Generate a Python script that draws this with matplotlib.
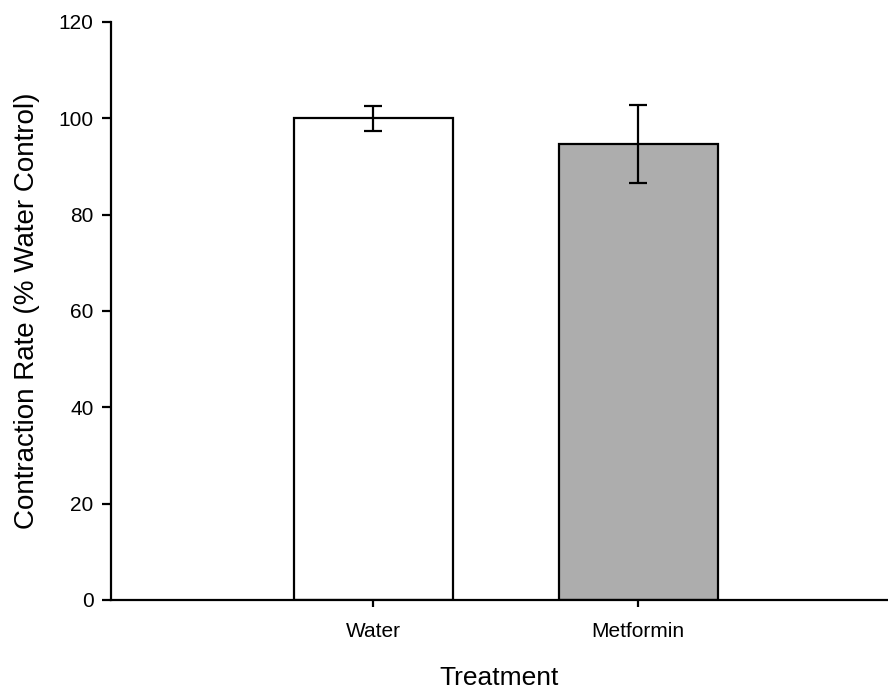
import matplotlib
matplotlib.use("Agg")
import matplotlib.pyplot as plt

plt.rcParams['font.family'] = ['Liberation Sans', 'DejaVu Sans']

categories = ["Water", "Metformin"]
values = [100.0, 94.7]
errors = [2.6, 8.1]
bar_colors = ["#ffffff", "#adadad"]
yticks = [0, 20, 40, 60, 80, 100, 120]

fig = plt.figure(figsize=(8.88, 6.93), dpi=100)
ax = fig.add_axes([0.125, 0.1342, 0.875, 0.8341])

x = list(range(len(categories)))
ax.bar(x, values, width=0.6, color=bar_colors, edgecolor="black", linewidth=1.6, zorder=2)
ax.errorbar(x, values, yerr=errors, fmt="none", ecolor="black", elinewidth=1.6,
            capsize=6.5, capthick=1.6, zorder=3)

ax.set_xlim(-0.99, 1.943)
ax.set_ylim(0, 120)
ax.set_yticks(yticks)
ax.set_xticks(x)
ax.set_xticklabels(categories)

for s in ["top", "right"]:
    ax.spines[s].set_visible(False)
for s in ["left", "bottom"]:
    ax.spines[s].set_linewidth(1.6)

ax.tick_params(axis="y", direction="out", length=6.5, width=1.6, labelsize=15, pad=6)
ax.tick_params(axis="x", direction="out", length=5, width=1.6, labelsize=15, pad=11)

ax.set_xlabel("Treatment", fontsize=19, labelpad=18)
ax.set_ylabel("Contraction Rate (% Water Control)", fontsize=20, labelpad=13)

fig.savefig("out.png", dpi=100)
